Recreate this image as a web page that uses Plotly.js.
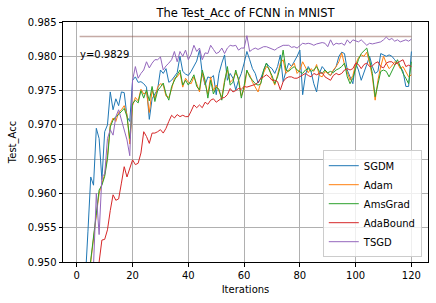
<!DOCTYPE html>
<html>
<head>
<meta charset="utf-8">
<script src="https://cdn.plot.ly/plotly-3.0.1.min.js"></script>
<style>html,body{margin:0;padding:0;background:#fff;}#chart{width:436px;height:303px;}</style>
</head>
<body>
<div id="chart"></div>
<script>
const iterations = Array.from({length: 120}, (_, i) => i + 1);

const sgdm = [0.940,0.943,0.947,0.9545,0.9624,0.9612,0.9695,0.9680,0.9620,0.9690,
0.9700,0.9748,0.9722,0.9738,0.9728,0.9748,0.9747,0.9712,0.9705,0.9765,
0.9770,0.9762,0.9763,0.9760,0.9755,0.9708,0.9738,0.9745,0.9752,0.9780,
0.9775,0.9782,0.9762,0.9765,0.9770,0.9776,0.9800,0.9778,0.9774,0.9772,
0.9778,0.9785,0.9793,0.9809,0.9775,0.9758,0.9770,0.9768,0.9772,0.9744,
0.9775,0.9790,0.9802,0.9765,0.9775,0.9768,0.9751,0.9765,0.9775,0.9790,
0.9807,0.9795,0.9782,0.9775,0.9761,0.9768,0.9778,0.9790,0.9785,0.9782,
0.9775,0.9785,0.9802,0.9763,0.9778,0.9790,0.9785,0.9792,0.9800,0.9809,
0.9744,0.9773,0.9785,0.9778,0.9760,0.9748,0.9775,0.9785,0.9780,0.9775,
0.9772,0.9778,0.9785,0.9800,0.9806,0.9804,0.9780,0.9770,0.9760,0.9790,
0.9780,0.9765,0.9778,0.9788,0.9800,0.9785,0.9775,0.9778,0.9804,0.9802,
0.9800,0.9802,0.9800,0.9795,0.9790,0.9785,0.9778,0.9756,0.9756,0.9807];

const adam = [0.940,0.942,0.944,0.9465,0.9500,0.9530,0.9568,0.9600,0.9615,0.9628,
0.9655,0.9700,0.9710,0.9705,0.9718,0.9722,0.9728,0.9715,0.9672,0.9728,
0.9740,0.9735,0.9752,0.9745,0.9748,0.9718,0.9750,0.9738,0.9755,0.9760,
0.9758,0.9742,0.9740,0.9752,0.9768,0.9770,0.9776,0.9755,0.9768,0.9762,
0.9760,0.9770,0.9760,0.9748,0.9776,0.9760,0.9745,0.9770,0.9750,0.9758,
0.9748,0.9740,0.9765,0.9780,0.9762,0.9766,0.9776,0.9768,0.9742,0.9752,
0.9778,0.9773,0.9762,0.9755,0.9748,0.9762,0.9776,0.9785,0.9782,0.9768,
0.9758,0.9773,0.9790,0.9795,0.9775,0.9780,0.9785,0.9790,0.9775,0.9780,
0.9792,0.9785,0.9776,0.9782,0.9778,0.9788,0.9772,0.9770,0.9778,0.9775,
0.9772,0.9780,0.9785,0.9792,0.9805,0.9788,0.9775,0.9765,0.9772,0.9788,
0.9798,0.9802,0.9800,0.9806,0.9790,0.9770,0.9736,0.9765,0.9785,0.9800,
0.9790,0.9782,0.9786,0.9792,0.9790,0.9782,0.9785,0.9778,0.9770,0.9773];

const amsgrad = [0.940,0.942,0.944,0.9465,0.9503,0.9535,0.9570,0.9605,0.9612,0.9625,
0.9650,0.9697,0.9707,0.9712,0.9715,0.9720,0.9724,0.9712,0.9680,0.9731,
0.9736,0.9732,0.9750,0.9739,0.9751,0.9735,0.9756,0.9734,0.9750,0.9755,
0.9761,0.9745,0.9736,0.9756,0.9765,0.9773,0.9780,0.9758,0.9765,0.9758,
0.9765,0.9773,0.9756,0.9751,0.9780,0.9765,0.9739,0.9765,0.9745,0.9755,
0.9752,0.9736,0.9762,0.9785,0.9758,0.9762,0.9780,0.9765,0.9739,0.9757,
0.9780,0.9770,0.9765,0.9760,0.9758,0.9760,0.9780,0.9790,0.9780,0.9772,
0.9760,0.9770,0.9785,0.9809,0.9780,0.9778,0.9782,0.9785,0.9780,0.9778,
0.9775,0.9780,0.9782,0.9778,0.9780,0.9785,0.9778,0.9775,0.9780,0.9776,
0.9778,0.9776,0.9780,0.9782,0.9785,0.9790,0.9770,0.9760,0.9768,0.9782,
0.9795,0.9804,0.9808,0.9812,0.9795,0.9775,0.9741,0.9760,0.9778,0.9780,
0.9778,0.9770,0.9778,0.9788,0.9795,0.9785,0.9775,0.9768,0.9760,0.9792];

const adabound = [0.935,0.937,0.939,0.941,0.943,0.945,0.947,0.9500,0.9532,0.9533,
0.9547,0.9575,0.9598,0.9590,0.9592,0.9615,0.9639,0.9624,0.9635,0.9649,
0.9642,0.9644,0.9659,0.9690,0.9683,0.9673,0.9688,0.9688,0.9690,0.9693,
0.9688,0.9695,0.9705,0.9714,0.9710,0.9715,0.9712,0.9714,0.9712,0.9712,
0.9720,0.9729,0.9725,0.9729,0.9725,0.9733,0.9730,0.9736,0.9738,0.9733,
0.9736,0.9739,0.9740,0.9744,0.9753,0.9748,0.9750,0.9753,0.9752,0.9756,
0.9755,0.9756,0.9757,0.9759,0.9762,0.9768,0.9770,0.9773,0.9770,0.9765,
0.9765,0.9763,0.9751,0.9763,0.9768,0.9770,0.9770,0.9768,0.9768,0.9770,
0.9773,0.9775,0.9772,0.9770,0.9775,0.9773,0.9775,0.9776,0.9770,0.9768,
0.9765,0.9772,0.9775,0.9773,0.9775,0.9780,0.9782,0.9780,0.9782,0.9790,
0.9788,0.9782,0.9788,0.9790,0.9785,0.9786,0.9790,0.9792,0.9785,0.9783,
0.9790,0.9792,0.9792,0.9788,0.9790,0.9793,0.9795,0.9785,0.9787,0.9785];

const tsgd = [0.930,0.935,0.938,0.942,0.946,0.9495,0.9600,0.9540,0.9625,0.9628,
0.9680,0.9693,0.9685,0.9712,0.9722,0.9707,0.9695,0.9678,0.9655,0.9765,
0.9785,0.9768,0.9775,0.9780,0.9792,0.9783,0.9790,0.9795,0.9795,0.9799,
0.9780,0.9786,0.9790,0.9795,0.9807,0.9792,0.9807,0.9800,0.9809,0.9795,
0.9803,0.9816,0.9807,0.9812,0.9795,0.9805,0.9804,0.9816,0.9810,0.9804,
0.9806,0.9812,0.9804,0.9812,0.9816,0.9815,0.9816,0.9809,0.9812,0.9812,
0.9830,0.9807,0.9810,0.9812,0.9810,0.9812,0.9814,0.9814,0.9812,0.9810,
0.9809,0.9812,0.9814,0.9816,0.9816,0.9816,0.9813,0.9814,0.9812,0.9816,
0.9819,0.9818,0.9819,0.9818,0.9816,0.9818,0.9819,0.9820,0.9819,0.9814,
0.9824,0.9816,0.9819,0.9818,0.9819,0.9816,0.9824,0.9819,0.9824,0.9822,
0.9821,0.9824,0.9820,0.9816,0.9819,0.9818,0.9819,0.9820,0.9821,0.9824,
0.9828,0.9824,0.9826,0.9822,0.9824,0.9821,0.9822,0.9824,0.9822,0.9825];

const refValue = 0.9829;
const refX = [1, 120];
const refY = [refValue, refValue];

const names = ['SGDM', 'Adam', 'AmsGrad', 'AdaBound', 'TSGD'];
const series = [sgdm, adam, amsgrad, adabound, tsgd];
const colors = ['#1f77b4', '#ff7f0e', '#2ca02c', '#d62728', '#9467bd'];

const traces = [{
  x: refX, y: refY, mode: 'lines', showlegend: false, hoverinfo: 'skip',
  line: {color: 'rgba(140,86,75,0.5)', width: 1.5}
}];
series.forEach((s, i) => {
  traces.push({x: iterations, y: s, name: names[i], mode: 'lines',
    line: {color: colors[i], width: 1}});
});

const font = {family: 'DejaVu Sans, sans-serif', color: '#000'};

const layout = {
  width: 436, height: 303,
  margin: {l: 63, r: 8, t: 22, b: 41, pad: 0},
  paper_bgcolor: '#fff', plot_bgcolor: '#fff',
  font: Object.assign({size: 10}, font),
  title: {text: 'The Test_Acc of FCNN in MNIST', font: Object.assign({size: 11.5}, font),
    x: 0.5, xanchor: 'center', y: 0.958, yanchor: 'middle', xref: 'paper', yref: 'container'},
  xaxis: {
    range: [-4.95, 125.95], tickvals: [0, 20, 40, 60, 80, 100, 120],
    showgrid: true, gridcolor: '#b0b0b0', gridwidth: 1,
    zeroline: false, showline: true, mirror: true, linecolor: '#000', linewidth: 1,
    ticks: 'outside', ticklen: 3.5, tickcolor: '#000', tickfont: Object.assign({size: 10}, font),
    title: {text: 'Iterations', font: Object.assign({size: 10}, font), standoff: 6}
  },
  yaxis: {
    range: [0.950, 0.985], tickvals: [0.950, 0.955, 0.960, 0.965, 0.970, 0.975, 0.980, 0.985],
    tickformat: '.3f',
    showgrid: true, gridcolor: '#b0b0b0', gridwidth: 1,
    zeroline: false, showline: true, mirror: true, linecolor: '#000', linewidth: 1,
    ticks: 'outside', ticklen: 3.5, tickcolor: '#000', tickfont: Object.assign({size: 10}, font),
    title: {text: 'Test_Acc', font: Object.assign({size: 10}, font), standoff: 9}
  },
  legend: {
    x: 0.983, y: 0.02, xanchor: 'right', yanchor: 'bottom',
    bgcolor: 'rgba(255,255,255,0.8)', bordercolor: '#cccccc', borderwidth: 1,
    font: Object.assign({size: 10}, font), tracegroupgap: 0
  },
  annotations: [{
    x: 0.3, y: 0.9803, xref: 'x', yref: 'y', text: 'y=' + refValue,
    showarrow: false, xanchor: 'left', yanchor: 'middle',
    font: Object.assign({size: 10}, font)
  }]
};

Plotly.newPlot('chart', traces, layout, {displayModeBar: false, staticPlot: true});
</script>
</body>
</html>
